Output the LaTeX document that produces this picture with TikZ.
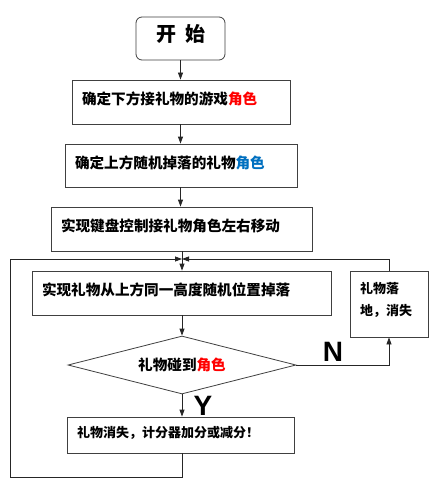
\documentclass[tikz,border=0pt]{standalone}
\usepackage{fontspec}
\setmainfont{Noto Sans CJK SC}
\newfontfamily\latinbold{Liberation Sans}
\usetikzlibrary{shapes.geometric,arrows.meta}
\definecolor{myred}{HTML}{FF0000}
\definecolor{myblue}{HTML}{0070C0}
\definecolor{edgegray}{HTML}{404040}
\tikzset{
  procbox/.style={draw=edgegray, line width=0.8pt, inner xsep=10pt, inner ysep=0pt,
    align=left, font=\bfseries\fontsize{14.6}{17}\selectfont, anchor=center,
    text height=12pt, text depth=6.5pt},
  smallbox/.style={procbox, font=\bfseries\fontsize{13}{22}\selectfont,
    text height=11pt, text depth=6pt},
  startbox/.style={draw=edgegray, line width=0.8pt, rounded corners=6pt,
    minimum width=89pt, minimum height=43pt, font=\bfseries\fontsize{20}{24}\selectfont,
    text height=17pt, text depth=11pt, inner ysep=0pt},
  decision/.style={diamond, draw=edgegray, line width=0.8pt, aspect=3.9, inner sep=0pt,
    minimum width=228pt, minimum height=58pt, font=\bfseries\fontsize{14.6}{17}\selectfont},
  flow/.style={draw=black!85, line width=0.8pt, -{Triangle[length=7pt,width=5pt]}},
  yn/.style={font=\latinbold\bfseries\fontsize{28}{30}\selectfont, inner sep=0pt}
}
\begin{document}
\begin{tikzpicture}[x=1pt,y=-1pt]
\useasboundingbox (0,0) rectangle (438,492);
\fill[white] (0,0) rectangle (438,492);

\node[startbox] (start) at (180.5,38.5) {开\hspace{9pt}始};

\node[procbox, minimum width=218pt, minimum height=44pt, text width=198pt] (b1) at (181,102)
  {确定下方接礼物的游戏\textcolor{myred}{角色}};
\node[procbox, minimum width=232pt, minimum height=43pt, text width=212pt] (b2) at (181,165.5)
  {确定上方随机掉落的礼物\textcolor{myblue}{角色}};
\node[procbox, minimum width=261pt, minimum height=44pt, text width=241pt] (b3) at (181.5,229)
  {实现键盘控制接礼物角色左右移动};
\node[procbox, minimum width=299pt, minimum height=44pt, text width=279pt] (b4) at (181.5,293)
  {实现礼物从上方同一高度随机位置掉落};
\node[decision] (d) at (182,365) {礼物碰到\textcolor{myred}{角色}};
\node[smallbox, minimum width=227pt, minimum height=36pt, text width=207pt] (b5) at (180.5,435)
  {礼物消失，计分器加分或减分！};
\node[smallbox, minimum width=78pt, minimum height=66pt, text width=58pt,
  text height=11pt, text depth=31.5pt] (r) at (389,304)
  {礼物落\\地，消失};

\coordinate (J) at (182,259);
\coordinate (LB) at (182,477);
\coordinate (LL) at (10,477);
\coordinate (LT) at (10,259);
\coordinate (RT) at (389,259);
\coordinate (RD) at (389,365);

\draw[flow] (start.south) -- (b1.north -| start.south);
\draw[flow] (b1.south -| start.south) -- (b2.north -| start.south);
\draw[flow] (b2.south -| start.south) -- (b3.north -| start.south);
\draw[flow] (b3.south -| J) -- (b4.north -| J);
\draw[flow] (b4.south -| J) -- (d.north);
\draw[flow] (d.south) -- (b5.north -| d.south);
\draw[flow] (d.east) -- (RD) -- (r.south);
\draw[flow] (b5.south -| J) -- (LB) -- (LL) -- (LT) -- (J);
\draw[flow] (r.north) -- (RT) -- (J);

\node[yn] (N) at (333,352) {N};
\node[yn] (Y) at (203,406) {Y};
\end{tikzpicture}
\end{document}
